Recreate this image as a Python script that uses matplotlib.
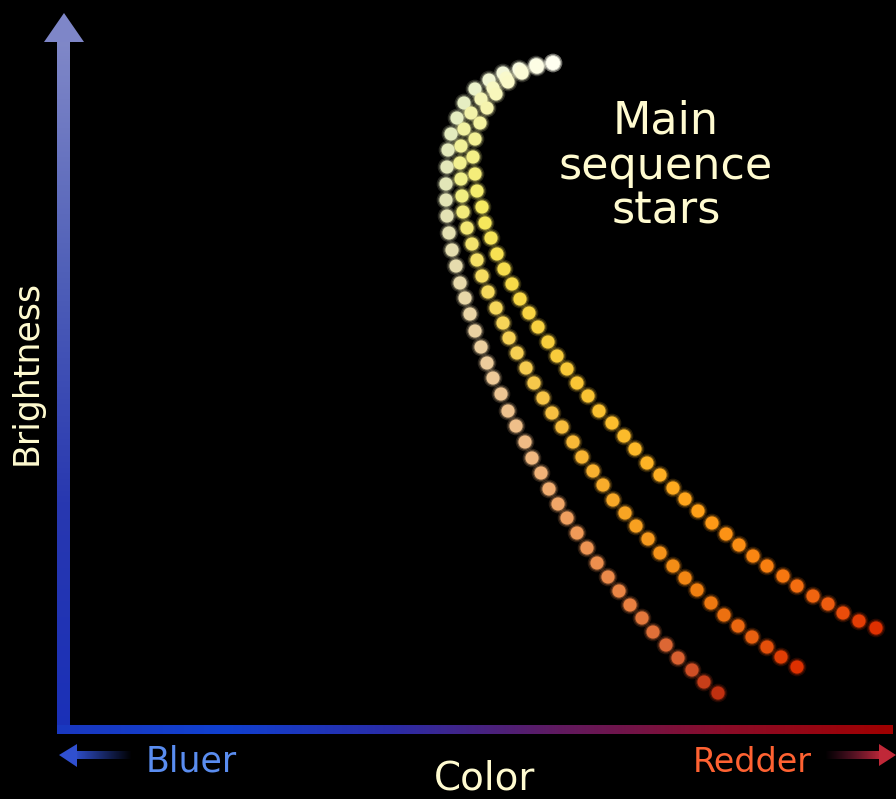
import numpy as np
import matplotlib.pyplot as plt
from matplotlib.colors import LinearSegmentedColormap
from matplotlib.patches import Polygon

# dot positions (pixel coordinates, y downwards)
curve_a_x = [553, 536, 519, 503, 489, 475, 464, 457, 451, 448, 447, 446, 446, 447, 449, 452,
             456, 460, 465, 470, 475, 481, 487, 493, 501, 508, 516, 525, 532, 541, 549, 558,
             567, 577, 587, 597, 608, 619, 630, 642, 653, 666, 678, 692, 704, 718]
curve_a_y = [63, 65, 69, 73, 80, 89, 103, 118, 134, 150, 167, 184, 200, 216, 233, 250,
             266, 283, 298, 314, 331, 347, 363, 378, 394, 411, 426, 442, 458, 473, 489, 504,
             518, 533, 548, 563, 577, 591, 605, 618, 632, 645, 658, 670, 682, 693]

curve_b_x = [553, 537, 521, 506, 493, 481, 471, 464, 461, 460, 461, 462, 463, 467, 472, 477,
             482, 488, 496, 503, 509, 517, 526, 534, 543, 552, 562, 573, 582, 593, 603, 613,
             625, 636, 648, 660, 673, 685, 697, 711, 724, 738, 752, 767, 781, 797]
curve_b_y = [63, 66, 71, 78, 88, 99, 113, 129, 146, 163, 179, 196, 212, 228, 244, 260,
             276, 292, 308, 323, 338, 353, 368, 383, 398, 413, 427, 442, 457, 471, 485, 500,
             513, 526, 539, 553, 566, 578, 590, 603, 615, 626, 637, 647, 657, 667]

curve_c_x = [553, 537, 522, 508, 496, 487, 480, 475, 473, 475, 477, 482, 485, 491, 497, 504,
             512, 520, 529, 538, 548, 557, 567, 577, 588, 599, 612, 624, 635, 647, 660, 673,
             685, 698, 712, 726, 739, 753, 767, 783, 797, 813, 828, 843, 859, 876]
curve_c_y = [63, 67, 73, 82, 94, 108, 123, 139, 157, 174, 191, 207, 223, 238, 254, 269,
             284, 299, 313, 327, 342, 356, 369, 383, 396, 411, 423, 436, 449, 463, 475, 488,
             499, 511, 523, 534, 545, 556, 566, 576, 586, 596, 604, 613, 621, 628]

# colour stops along each curve: (dot index, colour), top -> bottom
stops_idx = [0, 6, 11, 16, 22, 28, 33, 38, 42, 45]
colors_a = ["#fffff0", "#e6eec2", "#e2e6b8", "#e6dcae", "#eccc9c", "#f0b880",
            "#f09a58", "#e88040", "#d86030", "#c03010"]
colors_b = ["#fffff0", "#f2f2a8", "#f0ee80", "#f5dc60", "#f6cc50", "#f8b432",
            "#f8a020", "#f08010", "#e86010", "#dd3000"]
colors_c = ["#fffff0", "#f4f2a0", "#f5ea60", "#f8da48", "#f8c838", "#fcb828",
            "#ffa018", "#f88010", "#ee5c10", "#e03000"]

curves = [(curve_a_x, curve_a_y, colors_a),
          (curve_b_x, curve_b_y, colors_b),
          (curve_c_x, curve_c_y, colors_c)]

W, H = 896, 799
fig = plt.figure(figsize=(W / 100, H / 100), dpi=100, facecolor="black")
ax = fig.add_axes([0, 0, 1, 1])
ax.set_facecolor("black")


def gradient(stops, n=256, alphas=None):
    cmap = LinearSegmentedColormap.from_list("g", stops)
    arr = cmap(np.linspace(0, 1, n))
    if alphas is not None:
        arr[:, 3] = np.linspace(alphas[0], alphas[1], n)
    return arr


# vertical axis (brightness) with gradient
vert = gradient(["#8088c8", "#5060b8", "#2838b0", "#1a30b8"]).reshape(-1, 1, 4)
ax.imshow(vert, extent=(57, 70, 734, 40), aspect="auto", interpolation="bilinear", zorder=2)
ax.add_patch(Polygon([[44, 42], [84, 42], [64, 13]], closed=True, color="#7e86c8", lw=0, zorder=2))

# horizontal axis (colour) with gradient
horiz = gradient(["#1a38c0", "#1040d0", "#2a2ca8", "#601a60", "#8a0c28", "#a00000"]).reshape(1, -1, 4)
ax.imshow(horiz, extent=(57, 893, 734, 725), aspect="auto", interpolation="bilinear", zorder=2)

# "Bluer" arrow, fading to the right
bluer = gradient(["#3050d0", "#3050d0"], alphas=(1, 0)).reshape(1, -1, 4)
ax.imshow(bluer, extent=(74, 132, 759, 751), aspect="auto", interpolation="bilinear", zorder=2)
ax.add_patch(Polygon([[59, 755], [77, 744], [77, 767]], closed=True, color="#3050d0", lw=0, zorder=2))

# "Redder" arrow, fading to the left
redder = gradient(["#902050", "#c02838"], alphas=(0, 1)).reshape(1, -1, 4)
ax.imshow(redder, extent=(825, 882, 759, 751), aspect="auto", interpolation="bilinear", zorder=2)
ax.add_patch(Polygon([[879, 744], [879, 766], [896, 755]], closed=True, color="#c02838", lw=0, zorder=2))

# the three sequences of dots, each with a soft glow
for xs, ys, cols in curves:
    n = len(xs)
    cmap = LinearSegmentedColormap.from_list("c", [(i / (n - 1), c) for i, c in zip(stops_idx, cols)])
    dot_cols = cmap(np.linspace(0, 1, n))
    ax.scatter(xs, ys, s=180, c=dot_cols, alpha=0.18, lw=0, zorder=3)
    ax.scatter(xs, ys, s=125, c=dot_cols, alpha=0.35, lw=0, zorder=3)
    ax.scatter(xs, ys, s=90, c=dot_cols, lw=0, zorder=4)

cream = "#fffbd0"
ax.text(27, 372, "Brightness", rotation=90, ha="center", va="center",
        fontsize=25, color=cream)
ax.text(666, 166, "Main\nsequence\nstars", ha="center", va="center",
        fontsize=32, color=cream, linespacing=1.06)
ax.text(146, 762, "Bluer", ha="left", va="center", fontsize=25, color="#5a8df0")
ax.text(693, 762, "Redder", ha="left", va="center", fontsize=24, color="#ff6232")
ax.text(485, 778, "Color", ha="center", va="center", fontsize=28, color=cream)

ax.set_xlim(0, W)
ax.set_ylim(H, 0)
ax.axis("off")

fig.savefig("out.png", dpi=100, facecolor="black")
